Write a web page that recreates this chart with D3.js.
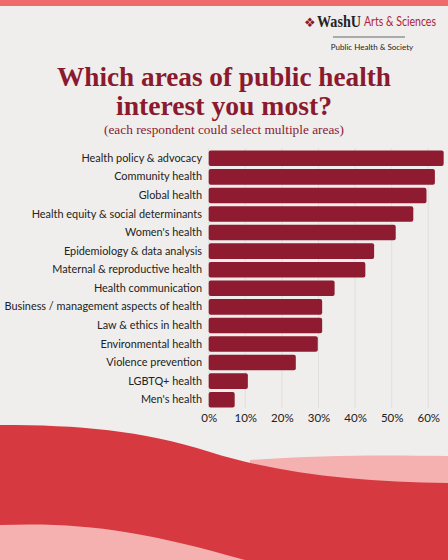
<!DOCTYPE html>
<html><head><meta charset="utf-8">
<script src="https://cdn.jsdelivr.net/npm/d3@7/dist/d3.min.js"></script>
<style>body{margin:0;background:#efeeec}svg{display:block}</style></head>
<body><svg id="c" width="448" height="560"></svg>
<script>
const categories = ["Health policy & advocacy","Community health","Global health","Health equity & social determinants","Women's health","Epidemiology & data analysis","Maternal & reproductive health","Health communication","Business / management aspects of health","Law & ethics in health","Environmental health","Violence prevention","LGBTQ+ health","Men's health"];
const values = [64.2,61.8,59.5,55.9,51.1,45.2,42.8,34.4,31.0,31.0,29.8,23.8,10.7,7.1];
const tickValues = [0,10,20,30,40,50,60];
const tickLabels = ["0%","10%","20%","30%","40%","50%","60%"];

const svg = d3.select("#c");
svg.append("rect").attr("width",448).attr("height",560).attr("fill","#efeeec");
svg.append("rect").attr("width",448).attr("height",6).attr("fill","#ef6a6a");

// bottom waves
svg.append("path").attr("fill","#f5b0b0")
  .attr("d","M250,460 C320,455 380,455 448,456 L448,560 L250,560 Z");
svg.append("path").attr("fill","#d63a40")
  .attr("d","M0,425 C80,425 140,430 210,452 C280,474 360,482 448,483 L448,560 L0,560 Z");
svg.append("path").attr("fill","#f5b0b0")
  .attr("d","M0,525 C80,522 140,530 245,560 L0,560 Z");

// header
svg.append("text").attr("x",304).attr("y",27).attr("font-family","DejaVu Sans").attr("font-weight","bold").attr("font-size",13).attr("fill","#8b1a2e").text("\u2756");
svg.append("text").attr("x",317).attr("y",27).attr("textLength",44).attr("lengthAdjust","spacingAndGlyphs").attr("font-family","Liberation Serif").attr("font-weight","bold").attr("font-size",16).attr("fill","#222").text("WashU");
svg.append("text").attr("x",364).attr("y",26).attr("textLength",72).attr("lengthAdjust","spacingAndGlyphs").attr("font-family","Lato").attr("font-size",12.5).attr("fill","#b01e3c").text("Arts & Sciences");
svg.append("line").attr("x1",333).attr("x2",405).attr("y1",37).attr("y2",37).attr("stroke","#444").attr("stroke-width",0.8);
svg.append("text").attr("x",372).attr("y",50).attr("text-anchor","middle").attr("font-family","Lato").attr("font-size",8).attr("fill","#222").text("Public Health & Society");

// title
const tc="#8b1a2e";
svg.append("text").attr("x",57).attr("y",86).attr("textLength",334).attr("lengthAdjust","spacingAndGlyphs")
  .attr("font-family","Liberation Serif").attr("font-weight","bold").attr("font-size",28).attr("fill",tc).text("Which areas of public health");
svg.append("text").attr("x",116).attr("y",115).attr("textLength",216).attr("lengthAdjust","spacingAndGlyphs")
  .attr("font-family","Liberation Serif").attr("font-weight","bold").attr("font-size",28).attr("fill",tc).text("interest you most?");
svg.append("text").attr("x",104).attr("y",134).attr("textLength",240).attr("lengthAdjust","spacingAndGlyphs")
  .attr("font-family","Liberation Serif").attr("font-size",13.5).attr("fill",tc).text("(each respondent could select multiple areas)");

// chart
const x = d3.scaleLinear().domain([0,60]).range([208.7,428.3]);
const y = d3.scaleBand().domain(categories).range([149,409]).paddingInner(0.16).paddingOuter(0.08);
const g = svg.append("g");
g.selectAll(".grid").data(tickValues).join("line")
  .attr("x1",d=>x(d)).attr("x2",d=>x(d)).attr("y1",148).attr("y2",408)
  .attr("stroke","#dcdcdc").attr("stroke-width",0.8);
g.selectAll(".bar").data(values).join("rect")
  .attr("x",x(0)).attr("y",(d,i)=>y(categories[i])).attr("width",d=>x(d)-x(0)).attr("height",y.bandwidth())
  .attr("rx",2).attr("fill","#8e1b30");
const ax = svg.append("g").attr("transform","translate(0,408)")
  .call(d3.axisBottom(x).tickValues(tickValues).tickFormat((d,i)=>tickLabels[i]).tickSize(0).tickPadding(6));
ax.select(".domain").remove();
ax.selectAll("text").attr("font-family","Lato").attr("font-size",11.5).attr("fill","#222");
const ay = svg.append("g").attr("transform","translate(202,0)")
  .call(d3.axisLeft(y).tickSize(0).tickPadding(0));
ay.select(".domain").remove();
ay.selectAll("text").attr("font-family","Lato").attr("font-size",10.9).attr("fill","#222");
</script></body></html>
